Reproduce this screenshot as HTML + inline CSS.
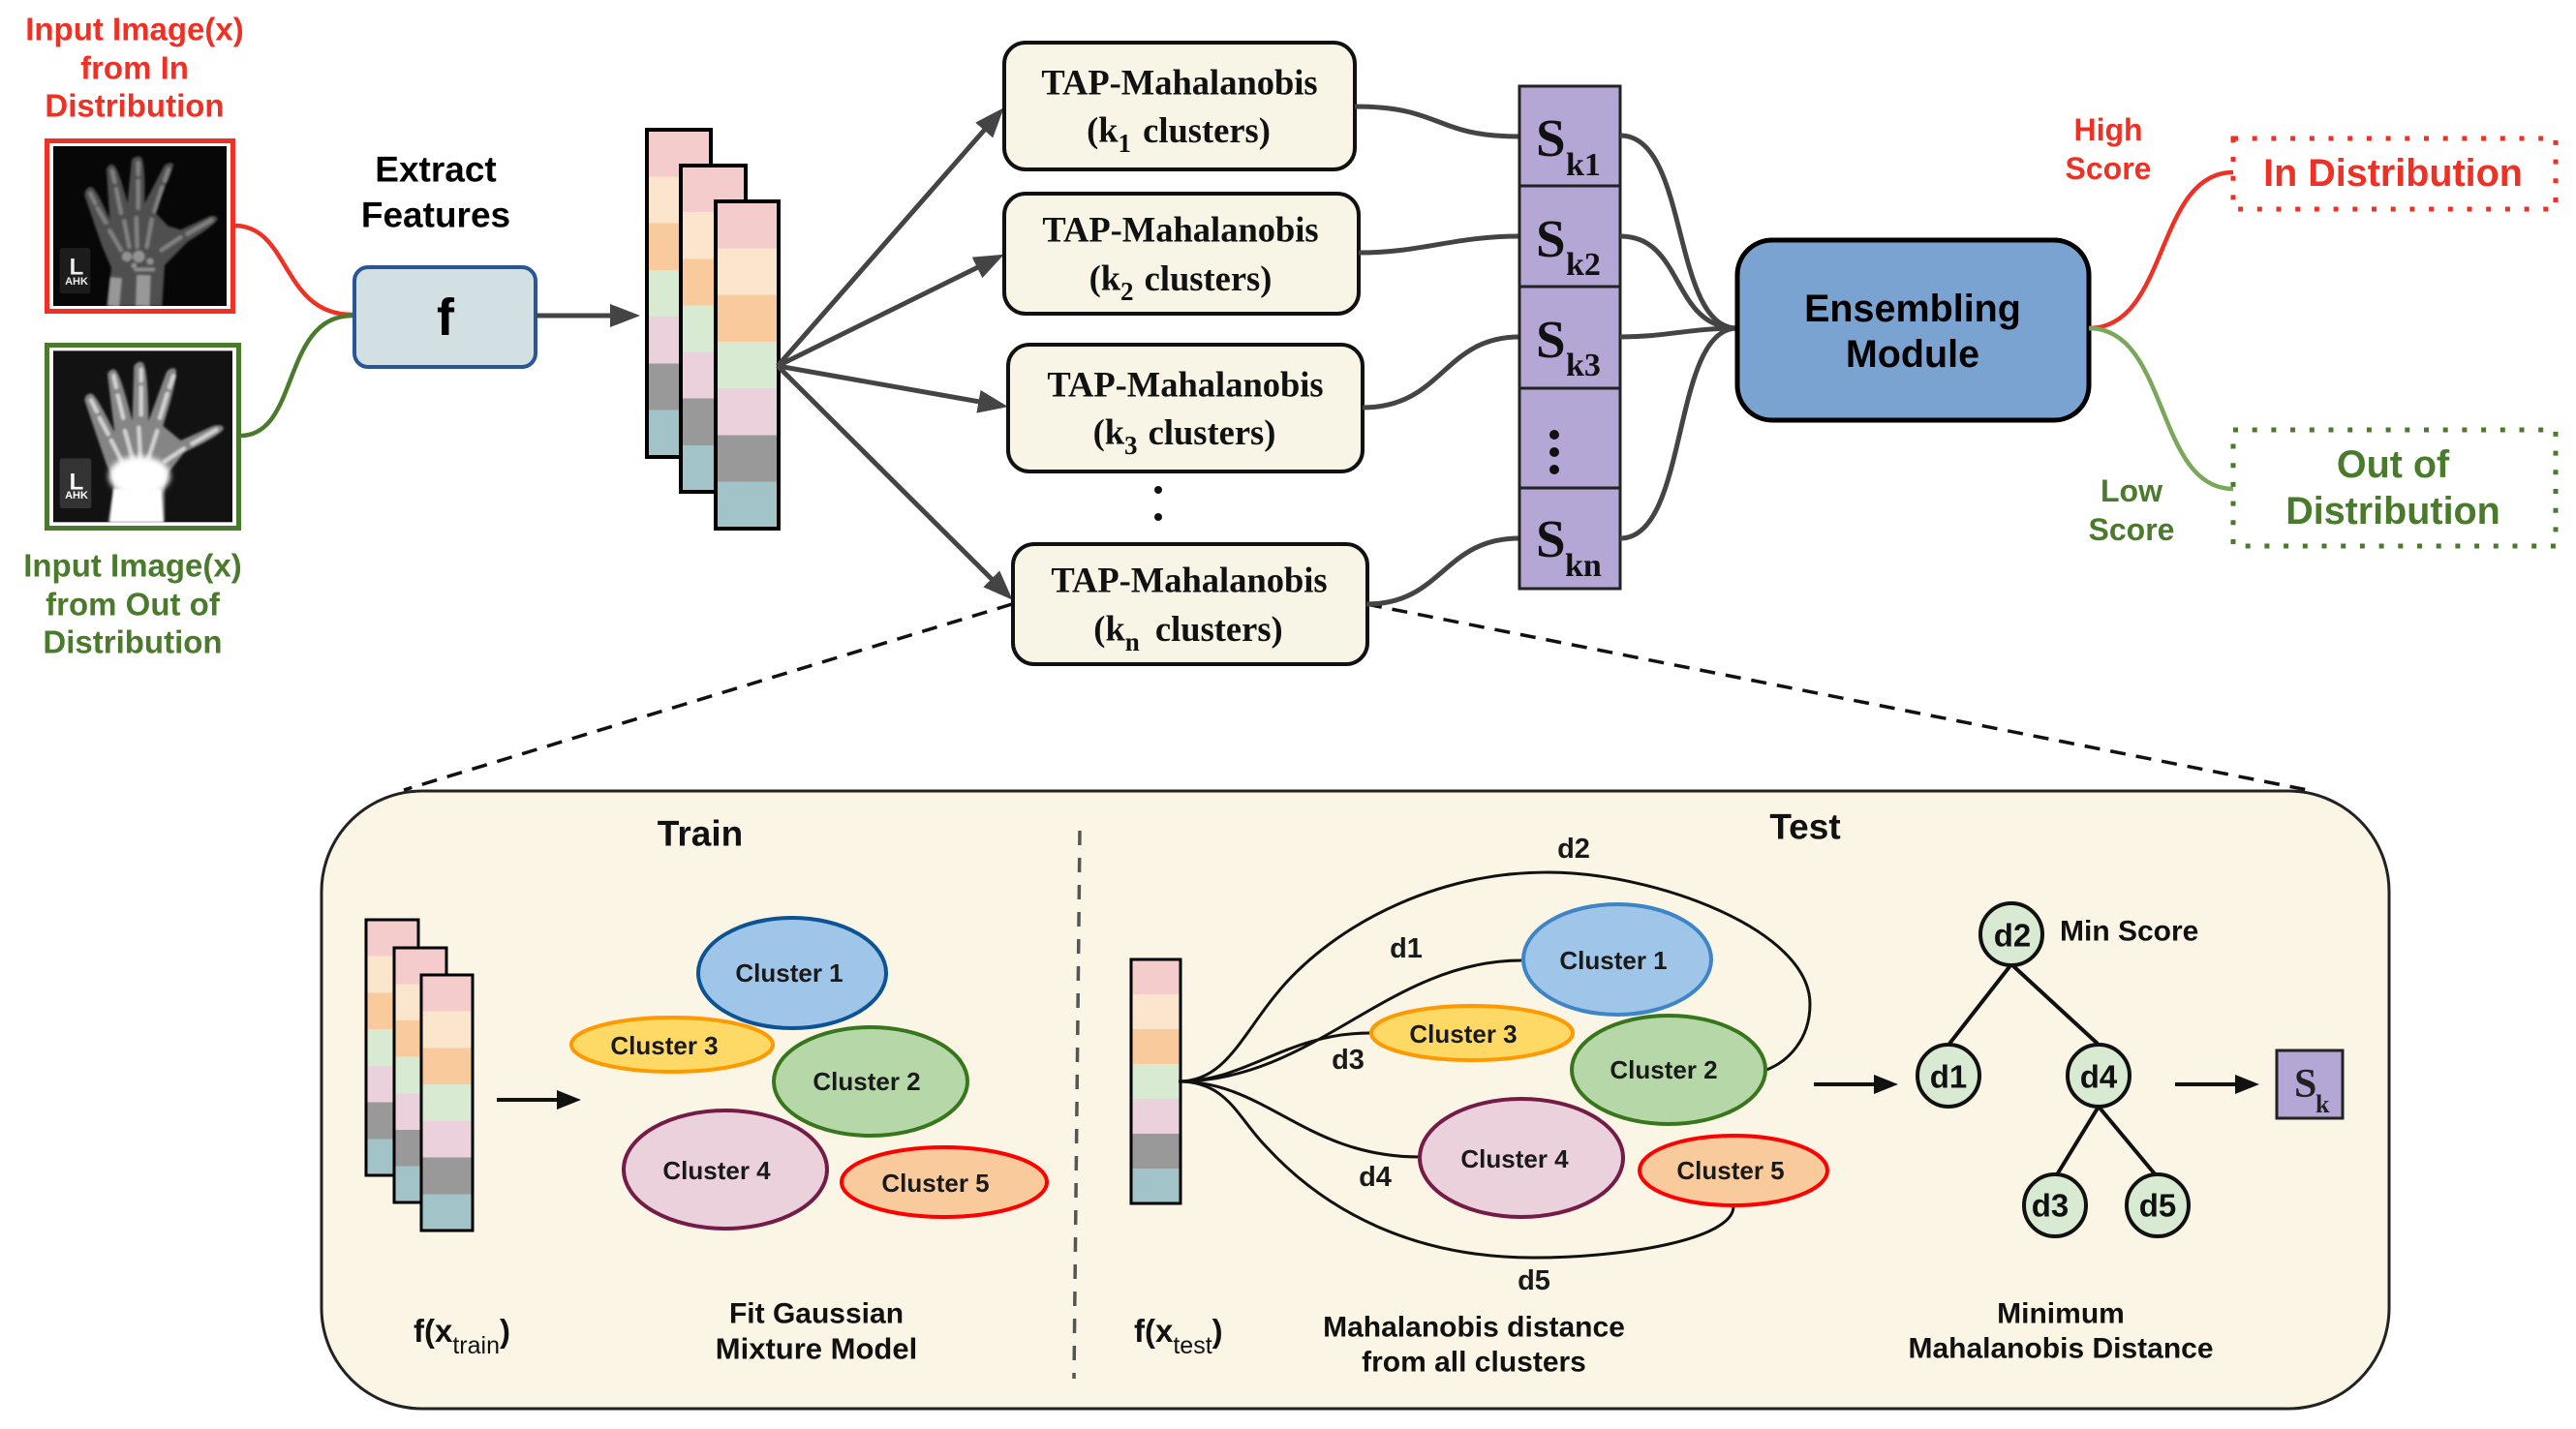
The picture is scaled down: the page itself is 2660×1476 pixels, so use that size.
<!DOCTYPE html>
<html><head><meta charset="utf-8"><style>
html,body{margin:0;padding:0;background:#fff;width:2660px;height:1476px;overflow:hidden}
svg{display:block}
text{font-family:"Liberation Sans",sans-serif;font-weight:bold;text-anchor:middle;dominant-baseline:central}
.s{font-family:"Liberation Serif",serif}
.l{text-anchor:start;dominant-baseline:alphabetic}
.sm{font-size:26px;fill:#1a1a1a}
.d{font-size:29px;fill:#1a1a1a}
.c{font-size:30px;fill:#111}
.n{font-size:33px;fill:#111}
.t{font-family:"Liberation Serif",serif;font-size:36.5px;fill:#111}
.con{fill:none;stroke:#444;stroke-width:5}
.thin{fill:none;stroke:#111;stroke-width:3}
.tree{stroke:#111;stroke-width:4}
</style></head><body>
<svg width="2660" height="1476" viewBox="0 0 2660 1476" xmlns="http://www.w3.org/2000/svg">
<defs>
<linearGradient id="st" x1="0" y1="0" x2="0" y2="1">
<stop offset="0" stop-color="#f4cccc"/><stop offset=".1428" stop-color="#f4cccc"/>
<stop offset=".1428" stop-color="#fce5cd"/><stop offset=".2857" stop-color="#fce5cd"/>
<stop offset=".2857" stop-color="#f9cb9c"/><stop offset=".4285" stop-color="#f9cb9c"/>
<stop offset=".4285" stop-color="#d9ead3"/><stop offset=".5714" stop-color="#d9ead3"/>
<stop offset=".5714" stop-color="#ead1dc"/><stop offset=".7142" stop-color="#ead1dc"/>
<stop offset=".7142" stop-color="#999"/><stop offset=".8571" stop-color="#999"/>
<stop offset=".8571" stop-color="#a2c4c9"/><stop offset="1" stop-color="#a2c4c9"/>
</linearGradient>
<marker id="ah" markerUnits="userSpaceOnUse" markerWidth="40" markerHeight="30" refX="10" refY="12" orient="auto"><path d="M0,0 L31,12 L0,24z" fill="#444"/></marker>
<marker id="ab" markerUnits="userSpaceOnUse" markerWidth="30" markerHeight="24" refX="5" refY="10" orient="auto"><path d="M0,0 L25,10 L0,20z" fill="#111"/></marker>
<filter id="b1" x="-10%" y="-10%" width="120%" height="120%"><feGaussianBlur stdDeviation="3.2"/></filter>
<filter id="b3" x="-20%" y="-20%" width="140%" height="140%"><feGaussianBlur stdDeviation="9"/></filter>
<clipPath id="c1"><rect x="75" y="63" width="537" height="495"/></clipPath>
<clipPath id="c2"><rect x="75" y="697" width="555" height="531"/></clipPath>
</defs>

<!-- left input labels -->
<g font-size="33" fill="#ee3124"><text x="139" y="30">Input Image(x)</text><text x="139" y="70">from In</text><text x="139" y="109">Distribution</text></g>
<g font-size="33" fill="#4a7a2c"><text x="137" y="584">Input Image(x)</text><text x="137" y="624">from Out of</text><text x="137" y="663">Distribution</text></g>

<!-- xray frames -->
<rect x="48.5" y="145.5" width="192" height="176" fill="#fff" stroke="#ee3124" stroke-width="5"/>
<rect x="48.5" y="356.5" width="198" height="189" fill="#fff" stroke="#4a7a2c" stroke-width="5"/>

<g transform="translate(30,130) scale(.33333)">
<!-- hand 1 -->
<rect x="75" y="63" width="537" height="495" fill="#070707"/>
<g clip-path="url(#c1)">
<rect x="95" y="378" width="95" height="142" rx="8" fill="#1c1c1c"/>
<path filter="url(#b1)" d="M240 558 L255 440 L225 370 L172 215 Q175 188 195 190 Q208 195 250 290 L240 135 Q245 118 260 120 Q275 125 305 240 L318 105 Q330 92 345 96 Q360 102 358 240 L418 125 Q430 112 445 116 Q456 122 385 262 L430 310 L470 322 L560 280 Q580 275 584 288 Q580 305 490 360 L420 432 L412 558 Z" fill="#505050"/>
<g filter="url(#b1)" stroke="#808080" stroke-width="14" fill="none" stroke-linecap="round">
<path d="M190 210L205 240M212 255L238 300M250 325L285 385"/>
<path d="M258 140L265 175M270 195L285 270M295 295L310 375"/>
<path d="M338 115V150M338 170V255M332 285L335 375"/>
<path d="M432 135L420 170M412 190L388 265M380 290L365 375"/>
<path d="M565 292L490 335M470 345L410 385"/>
<path d="M270 470L262 558" stroke-width="36" stroke="#989898" stroke-linecap="butt"/>
<path d="M355 462L352 558" stroke-width="44" stroke="#989898" stroke-linecap="butt"/>
<path d="M330 445H385" stroke-width="12" stroke="#909090"/>
</g>
<g filter="url(#b1)" fill="#929292"><circle cx="303" cy="405" r="16"/><circle cx="340" cy="405" r="19"/><circle cx="375" cy="420" r="11"/><circle cx="325" cy="433" r="9"/></g>
</g>
<!-- hand 2 -->
<rect x="75" y="697" width="555" height="531" fill="#121212"/>
<g clip-path="url(#c2)">
<rect x="95" y="1030" width="98" height="155" rx="8" fill="#333"/>
<path filter="url(#b1)" d="M245 1228 L265 1100 L240 1050 L172 850 Q175 828 195 830 Q210 838 265 950 L243 770 Q250 752 265 755 Q282 762 320 915 L325 745 Q335 728 350 732 Q368 738 370 915 L425 765 Q435 748 452 752 Q468 760 415 930 L470 975 L570 930 Q600 922 603 938 Q595 958 480 1012 L420 1090 L420 1228 Z" fill="#858585"/>
<g filter="url(#b1)" stroke="#d0d0d0" stroke-width="14" fill="none" stroke-linecap="round">
<path d="M192 850L210 885M218 905L245 955M255 975L290 1045"/>
<path d="M262 775L270 810M275 835L292 905M297 945L320 1030"/>
<path d="M347 755V790M347 810V895M340 935L345 1030"/>
<path d="M447 775L435 810M428 830L405 905M397 945L370 1030"/>
<path d="M580 942L505 985M480 1000L420 1040"/>
</g>
<ellipse cx="342" cy="1085" rx="95" ry="62" fill="#fff" filter="url(#b3)"/>
<path d="M262 1125 H410 L416 1228 H250 Z" fill="#fff" filter="url(#b1)"/>
</g>
</g>
<text x="79" y="276" font-size="24" fill="#eee">L</text><text x="79" y="291" font-size="11" fill="#eee">AHK</text>
<text x="79" y="498" font-size="24" fill="#fff">L</text><text x="79" y="512" font-size="11" fill="#fff">AHK</text>

<!-- input curves -->
<path d="M242 233 C300 233,290 325,364 325" fill="none" stroke="#ee3124" stroke-width="4.5"/>
<path d="M248 450 C310 450,290 326,364 326" fill="none" stroke="#4a7a2c" stroke-width="4.5"/>

<!-- f -->
<text x="450" y="175" font-size="37">Extract</text><text x="450" y="222" font-size="37">Features</text>
<rect x="366" y="276" width="187" height="103" rx="14" fill="#d3e0e3" stroke="#2a5596" stroke-width="4"/>
<text x="460" y="328" font-size="54" fill="#000">f</text>
<path d="M554 326 H640" class="con" marker-end="url(#ah)"/>

<!-- stack -->
<rect x="668" y="134" width="66" height="338" fill="url(#st)" stroke="#000" stroke-width="4"/>
<rect x="703" y="171" width="67" height="337" fill="url(#st)" stroke="#000" stroke-width="4"/>
<rect x="739" y="208" width="65" height="338" fill="url(#st)" stroke="#000" stroke-width="4"/>

<!-- fan arrows -->
<path d="M803 378 L1022.8 127" class="con" marker-end="url(#ah)"/>
<path d="M803 378 L1018 272" class="con" marker-end="url(#ah)"/>
<path d="M803 378 L1020.3 416.5" class="con" marker-end="url(#ah)"/>
<path d="M803 378 L1030.8 604.9" class="con" marker-end="url(#ah)"/>

<!-- TAP boxes -->
<g fill="#f8f5e7" stroke="#111" stroke-width="4">
<rect x="1037" y="44" width="362" height="131" rx="22"/>
<rect x="1037" y="200" width="366" height="124" rx="22"/>
<rect x="1041" y="356" width="366" height="131" rx="22"/>
<rect x="1046" y="562" width="366" height="124" rx="22"/>
</g>
<text class="t" x="1218" y="85">TAP-Mahalanobis</text>
<text class="t" x="1217" y="134">(k<tspan font-size="27" dy="14">1</tspan><tspan dy="-14" dx="3"> clusters)</tspan></text>
<text class="t" x="1219" y="237">TAP-Mahalanobis</text>
<text class="t" x="1219" y="287">(k<tspan font-size="27" dy="14">2</tspan><tspan dy="-14" dx="2"> clusters)</tspan></text>
<text class="t" x="1224" y="397">TAP-Mahalanobis</text>
<text class="t" x="1223" y="446">(k<tspan font-size="27" dy="14">3</tspan><tspan dy="-14" dx="2"> clusters)</tspan></text>
<text class="t" x="1228" y="599">TAP-Mahalanobis</text>
<text class="t" x="1227" y="649">(k<tspan font-size="27" dy="14">n</tspan><tspan dy="-14" dx="7"> clusters)</tspan></text>
<circle cx="1196" cy="506" r="4" fill="#111"/><circle cx="1196" cy="534" r="4" fill="#111"/>

<!-- dashed expansion -->
<path d="M1045 624 L417 816 M1411 624 L2388 817" fill="none" stroke="#111" stroke-width="3.5" stroke-dasharray="16 11"/>

<!-- box to score curves -->
<path d="M1399 110 C1490 110,1480 141,1569 141" class="con"/>
<path d="M1403 261 C1470 261,1500 244,1569 244" class="con"/>
<path d="M1407 421 C1490 421,1490 348,1569 348" class="con"/>
<path d="M1411 624 C1490 624,1490 556,1569 556" class="con"/>

<!-- score column -->
<g fill="#b4a7d6" stroke="#222" stroke-width="3">
<rect x="1569" y="89" width="104" height="103"/><rect x="1569" y="192" width="104" height="104"/><rect x="1569" y="296" width="104" height="105"/><rect x="1569" y="401" width="104" height="103"/><rect x="1569" y="504" width="104" height="104"/>
</g>
<g>
<text class="s l" x="1586" y="161" font-size="55" fill="#111">S</text><text class="s l" x="1617" y="181" font-size="34" fill="#111">k1</text>
<text class="s l" x="1586" y="265" font-size="55" fill="#111">S</text><text class="s l" x="1617" y="284" font-size="34" fill="#111">k2</text>
<text class="s l" x="1586" y="369" font-size="55" fill="#111">S</text><text class="s l" x="1617" y="388" font-size="34" fill="#111">k3</text>
<text class="s l" x="1586" y="575" font-size="55" fill="#111">S</text><text class="s l" x="1616" y="595" font-size="34" fill="#111">kn</text>
</g>
<circle cx="1605" cy="449" r="5" fill="#111"/><circle cx="1605" cy="467" r="5" fill="#111"/><circle cx="1605" cy="485" r="5" fill="#111"/>

<!-- score to ensemble curves -->
<path d="M1673 140 C1745 140,1725 339,1794 339" class="con"/>
<path d="M1673 244 C1740 244,1725 339,1794 339" class="con"/>
<path d="M1673 348 C1720 348,1745 339,1794 339" class="con"/>
<path d="M1673 556 C1745 556,1725 339,1794 339" class="con"/>

<!-- ensemble -->
<rect x="1794" y="248" width="363" height="186" rx="36" fill="#7ba3d1" stroke="#000" stroke-width="5"/>
<text x="1975" y="319" font-size="39.5" fill="#000">Ensembling</text>
<text x="1975" y="366" font-size="39.5" fill="#000">Module</text>

<!-- outputs -->
<path d="M2157 339 C2240 339,2225 178,2306 178" fill="none" stroke="#ee3124" stroke-width="4.5"/>
<path d="M2157 339 C2240 339,2225 505,2306 505" fill="none" stroke="#7aa85a" stroke-width="4.5"/>
<rect x="2306" y="143" width="333" height="73" fill="none" stroke="#ee3124" stroke-width="5" stroke-dasharray="5 14.7"/>
<rect x="2306" y="444" width="333" height="120" fill="none" stroke="#4a7a2c" stroke-width="5" stroke-dasharray="5 14.7"/>
<text x="2471" y="179" font-size="39.5" fill="#ee3124">In Distribution</text>
<text x="2471" y="480" font-size="39.5" fill="#4a7a2c">Out of</text>
<text x="2471" y="528" font-size="39.5" fill="#4a7a2c">Distribution</text>
<text x="2177" y="134" font-size="32" fill="#ee3124">High</text><text x="2177" y="174" font-size="32" fill="#ee3124">Score</text>
<text x="2201" y="507" font-size="32" fill="#4a7a2c">Low</text><text x="2201" y="547" font-size="32" fill="#4a7a2c">Score</text>

<!-- bottom panel -->
<rect x="332" y="817" width="2135" height="638" rx="104" fill="#fbf5e6" stroke="#222" stroke-width="3"/>
<text x="723" y="861" font-size="37" fill="#111">Train</text>
<text x="1864" y="854" font-size="37" fill="#111">Test</text>
<path d="M1115 858 L1109 1424" fill="none" stroke="#555" stroke-width="3.5" stroke-dasharray="15 13"/>

<!-- train -->
<rect x="378" y="950" width="54" height="264" fill="url(#st)" stroke="#000" stroke-width="3"/>
<rect x="407" y="979" width="54" height="263" fill="url(#st)" stroke="#000" stroke-width="3"/>
<rect x="435" y="1007" width="53" height="264" fill="url(#st)" stroke="#000" stroke-width="3"/>
<path d="M513 1136 H580" fill="none" stroke="#111" stroke-width="4" marker-end="url(#ab)"/>
<g transform="translate(-3,-5)">
<g stroke-width="4">
<ellipse cx="821" cy="1010" rx="97" ry="57" fill="#9fc5e8" stroke="#0b5394"/>
<ellipse cx="697" cy="1084" rx="104" ry="28" fill="#ffd966" stroke="#ff9900"/>
<ellipse cx="902" cy="1122" rx="100" ry="56" fill="#b6d7a8" stroke="#38761d"/>
<ellipse cx="752" cy="1213" rx="105" ry="61" fill="#ead1dc" stroke="#741b47"/>
<ellipse cx="978" cy="1226" rx="106" ry="36" fill="#f9cb9c" stroke="#ff0000"/>
</g>
<text class="sm" x="818" y="1010">Cluster 1</text>
<text class="sm" x="689" y="1085">Cluster 3</text>
<text class="sm" x="898" y="1122">Cluster 2</text>
<text class="sm" x="743" y="1214">Cluster 4</text>
<text class="sm" x="969" y="1227">Cluster 5</text>
</g>
<text class="l" x="427" y="1386" font-size="33" fill="#111">f(x<tspan font-size="25" font-weight="normal" dy="12">train</tspan><tspan dy="-12">)</tspan></text>
<text class="c" x="843" y="1357">Fit Gaussian</text><text class="c" x="843" y="1393" style="font-size:31px">Mixture Model</text>

<!-- test -->
<rect x="1168" y="991" width="51" height="252" fill="url(#st)" stroke="#000" stroke-width="3"/>
<g transform="translate(-7,-5)">
<path class="thin" d="M1224 1122 C1365 1122,1440 997,1578 997"/>
<path class="thin" d="M1224 1122 C1295 1122,1335 1072,1422 1072"/>
<path class="thin" d="M1224 1122 C1275 1122,1290 1070,1335 1020 C1395 955,1495 906,1605 906 C1715 906,1876 965,1876 1042 C1876 1080,1852 1102,1831 1110"/>
<path class="thin" d="M1224 1122 C1315 1122,1355 1200,1473 1200"/>
<path class="thin" d="M1224 1122 C1275 1122,1285 1160,1315 1190 C1375 1255,1465 1304,1590 1304 C1685 1304,1797 1285,1797 1251"/>
<g stroke-width="4">
<ellipse cx="1677" cy="996" rx="97" ry="57" fill="#9fc5e8" stroke="#3d85c6"/>
<ellipse cx="1527" cy="1072" rx="104" ry="28" fill="#ffd966" stroke="#ff9900"/>
<ellipse cx="1730" cy="1110" rx="100" ry="56" fill="#b6d7a8" stroke="#38761d"/>
<ellipse cx="1578" cy="1201" rx="105" ry="61" fill="#ead1dc" stroke="#741b47"/>
<ellipse cx="1797" cy="1214" rx="97" ry="36" fill="#f9cb9c" stroke="#ff0000"/>
</g>
<text class="sm" x="1673" y="997">Cluster 1</text>
<text class="sm" x="1518" y="1073">Cluster 3</text>
<text class="sm" x="1725" y="1110">Cluster 2</text>
<text class="sm" x="1571" y="1202">Cluster 4</text>
<text class="sm" x="1794" y="1214">Cluster 5</text>
<text class="d" x="1632" y="882">d2</text>
<text class="d" x="1459" y="985">d1</text>
<text class="d" x="1399" y="1100">d3</text>
<text class="d" x="1427" y="1221">d4</text>
<text class="d" x="1591" y="1328">d5</text>
</g>
<text class="l" x="1171" y="1386" font-size="33" fill="#111">f(x<tspan font-size="25" font-weight="normal" dy="12">test</tspan><tspan dy="-12">)</tspan></text>
<text class="c" x="1522" y="1371">Mahalanobis distance</text><text class="c" x="1522" y="1407">from all clusters</text>

<!-- tree -->
<path d="M1873 1120 H1940" fill="none" stroke="#111" stroke-width="4" marker-end="url(#ab)"/>
<g transform="translate(-7,-5)">
<path class="tree" d="M2084 1001 L2020 1083 M2084 1001 L2173 1083 M2174 1148 L2130 1220 M2174 1148 L2234 1220" fill="none"/>
<g fill="#d9ead3" stroke="#111" stroke-width="4">
<circle cx="2084" cy="970" r="32"/><circle cx="2019" cy="1116" r="32"/><circle cx="2174" cy="1116" r="32"/><circle cx="2129" cy="1250" r="32"/><circle cx="2235" cy="1250" r="32"/>
</g>
<text class="n" x="2085" y="971">d2</text><text class="n" x="2019" y="1117">d1</text><text class="n" x="2174" y="1117">d4</text><text class="n" x="2124" y="1250">d3</text><text class="n" x="2235" y="1250">d5</text>
<text class="c" style="text-anchor:start" x="2134" y="967">Min Score</text>
</g>
<path d="M2246 1120 H2313" fill="none" stroke="#111" stroke-width="4" marker-end="url(#ab)"/>
<rect x="2351" y="1085" width="68" height="70" fill="#b4a7d6" stroke="#222" stroke-width="3"/>
<text class="s l" x="2369" y="1133" font-size="42" fill="#222">S</text>
<text class="s l" x="2391" y="1149" font-size="26" fill="#222">k</text>
<text class="c" x="2128" y="1357">Minimum</text><text class="c" x="2128" y="1393">Mahalanobis Distance</text>
</svg>
</body></html>
